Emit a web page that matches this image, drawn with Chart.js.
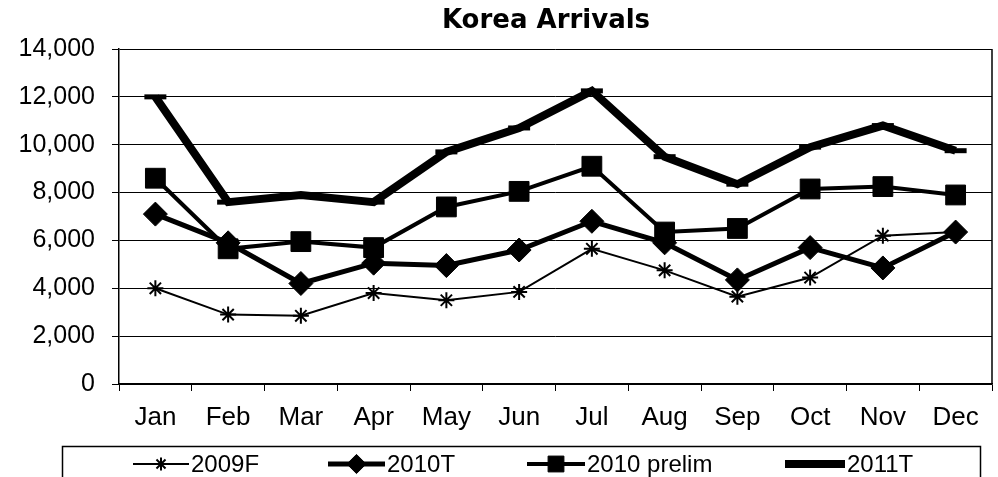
<!DOCTYPE html>
<html>
<head>
<meta charset="utf-8">
<script src="https://cdn.jsdelivr.net/npm/chart.js@4/dist/chart.umd.min.js"></script>
<style>
  html, body { margin: 0; padding: 0; background: #fff; overflow: hidden; }
  #wrap { width: 998px; height: 477px; }
  canvas { display: block; }
</style>
</head>
<body>
<div id="wrap"><canvas id="chart" width="998" height="477"></canvas></div>
<script>
const months = ["Jan", "Feb", "Mar", "Apr", "May", "Jun", "Jul", "Aug", "Sep", "Oct", "Nov", "Dec"];
const arrivals2009F = [4000, 2900, 2850, 3800, 3500, 3850, 5650, 4750, 3650, 4450, 6200, 6350];
const arrivals2010T = [7100, 5900, 4200, 5050, 4950, 5600, 6800, 5900, 4350, 5700, 4850, 6350];
const arrivals2010Prelim = [8600, 5650, 5950, 5700, 7400, 8050, 9100, 6350, 6500, 8150, 8250, 7900];
const arrivals2011T = [12000, 7600, 7900, 7600, 9700, 10700, 12250, 9500, 8350, 9900, 10800, 9750];
const chartTitle = "Korea Arrivals";

const FONT = "'Liberation Sans', Arial, sans-serif";

// title + boxed legend under the x axis, plus the right edge of the plot frame
const decorations = {
    id: "decorations",
    afterDraw(chart) {
        const ctx = chart.ctx;
        const area = chart.chartArea;
        ctx.save();
        ctx.strokeStyle = "#000";
        ctx.lineWidth = 1.5;
        ctx.beginPath();
        ctx.moveTo(area.right, area.top);
        ctx.lineTo(area.right, area.bottom);
        ctx.stroke();

        ctx.fillStyle = "#000";
        ctx.font = "bold 26px 'DejaVu Sans', sans-serif";
        ctx.textAlign = "center";
        ctx.textBaseline = "alphabetic";
        ctx.fillText(chartTitle, 546, 28);

        // legend box
        ctx.lineWidth = 1.5;
        ctx.strokeRect(62.5, 446.5, 918, 60);

        const items = [
            { x: 133, len: 56 },
            { x: 328, len: 57 },
            { x: 527, len: 58 },
            { x: 785, len: 60 }
        ];
        ctx.font = "24px " + FONT;
        ctx.textAlign = "left";
        ctx.textBaseline = "middle";
        chart.data.datasets.forEach((ds, i) => {
            const it = items[i];
            const y = 464;
            ctx.strokeStyle = "#000";
            ctx.lineWidth = ds.borderWidth;
            ctx.beginPath();
            ctx.moveTo(it.x, y);
            ctx.lineTo(it.x + it.len, y);
            ctx.stroke();
            if (ds.pointStyle !== "line") {
                ctx.fillStyle = "#000";
                ctx.lineWidth = ds.pointBorderWidth;
                Chart.helpers.drawPoint(ctx, {
                    pointStyle: ds.pointStyle,
                    radius: ds.pointRadius * 0.8,
                    borderWidth: ds.pointBorderWidth,
                    rotation: 0
                }, it.x + it.len / 2, y);
            }
            ctx.fillStyle = "#000";
            ctx.fillText(ds.label, it.x + it.len + 2, y + 1);
        });
        ctx.restore();
    }
};

function series(label, data, style, radius, lineWidth, pointBorder) {
    return {
        label: label,
        data: data,
        borderColor: "#000",
        backgroundColor: "#000",
        borderWidth: lineWidth,
        pointStyle: style,
        pointRadius: radius,
        pointHoverRadius: radius,
        pointBorderWidth: pointBorder,
        pointBackgroundColor: "#000",
        pointBorderColor: "#000",
        tension: 0,
        fill: false
    };
}

new Chart(document.getElementById("chart"), {
    type: "line",
    data: {
        labels: months,
        datasets: [
            series("2009F", arrivals2009F, "star", 8, 2, 2),
            series("2010T", arrivals2010T, "rectRot", 12, 5, 1),
            series("2010 prelim", arrivals2010Prelim, "rect", 14, 4, 1),
            series("2011T", arrivals2011T, "line", 11, 8, 5)
        ]
    },
    options: {
        responsive: false,
        animation: false,
        layout: { autoPadding: false, padding: { left: 0, right: 6, top: 49, bottom: 0 } },
        plugins: {
            legend: { display: false },
            title: { display: false },
            tooltip: { enabled: false }
        },
        scales: {
            x: {
                offset: true,
                grid: { display: true, offset: true, drawOnChartArea: false, color: "#000", tickLength: 7 },
                border: { color: "#000", width: 1.5 },
                ticks: { color: "#000", font: { family: FONT, size: 26 }, padding: 11, maxRotation: 0 },
                afterFit: s => { s.height = 93; s.paddingLeft = 0; s.paddingRight = 0; }
            },
            y: {
                min: 0,
                max: 14000,
                grid: { color: "#000", lineWidth: 1, tickLength: 7 },
                border: { color: "#000", width: 1.5 },
                ticks: {
                    stepSize: 2000,
                    color: "#000",
                    padding: 17,
                    font: { family: FONT, size: 25 },
                    callback: v => v.toLocaleString("en-US")
                },
                afterFit: s => { s.width = 119; }
            }
        }
    },
    plugins: [decorations]
});
</script>
</body>
</html>
